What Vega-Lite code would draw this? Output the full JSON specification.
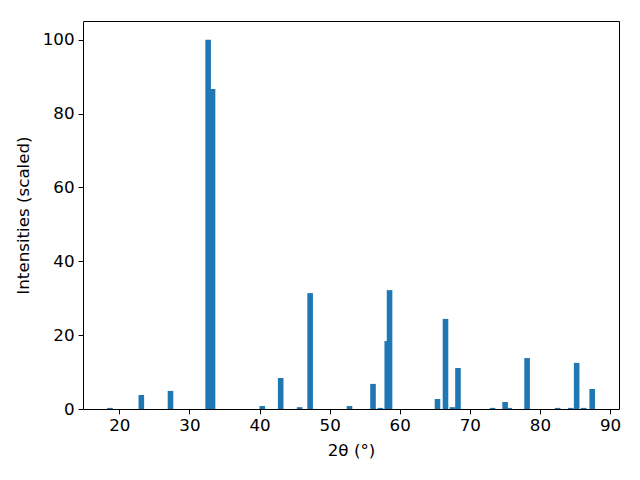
{
  "$schema": "https://vega.github.io/schema/vega-lite/v6.json",
  "width": 536,
  "height": 388,
  "autosize": {"type": "none"},
  "padding": {"left": 83, "top": 21, "right": 21, "bottom": 71},
  "background": "white",
  "config": {
    "view": {"stroke": "black", "strokeWidth": 1},
    "axis": {
      "grid": false,
      "domain": false,
      "tickColor": "black",
      "tickSize": 4.9,
      "tickWidth": 1,
      "labelColor": "black",
      "labelFont": "DejaVu Sans",
      "labelFontSize": 16.7,
      "labelPadding": 4,
      "titleFont": "DejaVu Sans",
      "titleFontSize": 16.7,
      "titleFontWeight": "normal",
      "titleColor": "black"
    }
  },
  "data": {
    "values": [
      {"two_theta": 18.67, "intensity": 0.3},
      {"two_theta": 23.14, "intensity": 3.8},
      {"two_theta": 27.3, "intensity": 4.9},
      {"two_theta": 32.67, "intensity": 100},
      {"two_theta": 33.3, "intensity": 86.7},
      {"two_theta": 40.39, "intensity": 0.8},
      {"two_theta": 43.02, "intensity": 8.4},
      {"two_theta": 45.72, "intensity": 0.5},
      {"two_theta": 47.22, "intensity": 31.4},
      {"two_theta": 52.84, "intensity": 0.8},
      {"two_theta": 56.19, "intensity": 6.8},
      {"two_theta": 57.25, "intensity": 0.3},
      {"two_theta": 58.22, "intensity": 18.4},
      {"two_theta": 58.55, "intensity": 32.2},
      {"two_theta": 65.39, "intensity": 2.7},
      {"two_theta": 66.53, "intensity": 24.4},
      {"two_theta": 67.53, "intensity": 0.5},
      {"two_theta": 68.31, "intensity": 11.1},
      {"two_theta": 73.24, "intensity": 0.3},
      {"two_theta": 75.03, "intensity": 1.9},
      {"two_theta": 75.6, "intensity": 0.3},
      {"two_theta": 78.17, "intensity": 13.8},
      {"two_theta": 82.53, "intensity": 0.3},
      {"two_theta": 84.4, "intensity": 0.3},
      {"two_theta": 85.24, "intensity": 12.5},
      {"two_theta": 86.24, "intensity": 0.3},
      {"two_theta": 87.46, "intensity": 5.4}
    ]
  },
  "mark": {"type": "bar", "width": 5.6, "color": "#1f77b4"},
  "encoding": {
    "x": {
      "field": "two_theta",
      "type": "quantitative",
      "scale": {"domain": [14.82, 91.28], "nice": false, "zero": false, "padding": 0},
      "axis": {"values": [20, 30, 40, 50, 60, 70, 80, 90], "title": "2θ (°)", "titlePadding": 8}
    },
    "y": {
      "field": "intensity",
      "type": "quantitative",
      "scale": {"domain": [0, 105.1], "nice": false, "padding": 0},
      "axis": {"values": [0, 20, 40, 60, 80, 100], "title": "Intensities (scaled)", "titlePadding": 10}
    }
  }
}
